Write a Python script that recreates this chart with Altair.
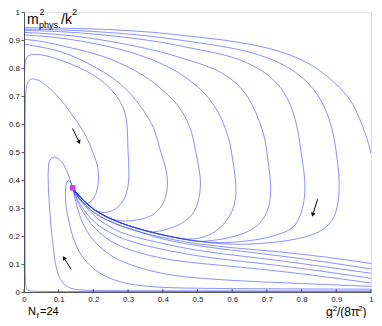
import math
import pandas as pd
import altair as alt

# ---- data (x = g^2/(8pi^2), y = m^2_phys./k^2) ----
BUNDLE_UP = [(0.5, 0.180), (0.43, 0.195), (0.36, 0.215), (0.30, 0.237), (0.26, 0.255),
             (0.22, 0.279), (0.19, 0.304), (0.165, 0.335), (0.15, 0.355), (0.1405, 0.372)]
BUNDLE_LO = [(0.6, 0.163), (0.5, 0.172), (0.43, 0.186), (0.36, 0.205), (0.30, 0.227),
             (0.26, 0.245), (0.22, 0.268), (0.19, 0.293), (0.165, 0.327), (0.15, 0.35), (0.1405, 0.372)]

C1 = [(0.0, 0.944), (0.1, 0.943), (0.2, 0.94), (0.3, 0.934), (0.4, 0.925), (0.48, 0.913),
      (0.58, 0.9), (0.667, 0.882), (0.75, 0.857), (0.834, 0.812), (0.899, 0.745), (0.946, 0.683),
      (0.969, 0.613), (0.988, 0.554), (1.0, 0.495)]
C2 = [(0.0, 0.939), (0.1, 0.937), (0.2, 0.931), (0.3, 0.922), (0.4, 0.909), (0.48, 0.894),
      (0.567, 0.879), (0.667, 0.855), (0.778, 0.80), (0.853, 0.706), (0.89, 0.589), (0.902, 0.48),
      (0.911, 0.391), (0.904, 0.278), (0.867, 0.219), (0.80, 0.19), (0.70, 0.173), (0.6, 0.168)]
C3 = [(0.0, 0.934), (0.1, 0.931), (0.2, 0.922), (0.3, 0.909), (0.4, 0.892), (0.48, 0.871),
      (0.55, 0.855), (0.62, 0.834), (0.713, 0.777), (0.769, 0.683), (0.792, 0.566), (0.797, 0.507),
      (0.813, 0.391), (0.806, 0.30), (0.785, 0.24), (0.765, 0.219), (0.72, 0.2), (0.681, 0.188),
      (0.62, 0.179), (0.569, 0.175)]
C4 = [(0.0, 0.927), (0.1, 0.921), (0.2, 0.906), (0.3, 0.884), (0.4, 0.857), (0.48, 0.826),
      (0.573, 0.789), (0.639, 0.718), (0.676, 0.624), (0.696, 0.542), (0.699, 0.507), (0.712, 0.391),
      (0.711, 0.331), (0.699, 0.272), (0.662, 0.219), (0.587, 0.19), (0.52, 0.181)]
C5 = [(0.0, 0.918), (0.08, 0.912), (0.164, 0.897), (0.24, 0.878), (0.304, 0.859), (0.37, 0.83),
      (0.425, 0.80), (0.48, 0.756), (0.536, 0.695), (0.573, 0.613), (0.592, 0.542), (0.597, 0.507),
      (0.612, 0.391), (0.611, 0.331), (0.597, 0.272), (0.56, 0.219), (0.52, 0.195), (0.48, 0.186)]
C6 = [(0.0, 0.903), (0.06, 0.894), (0.117, 0.877), (0.19, 0.857), (0.257, 0.83), (0.32, 0.792),
      (0.369, 0.754), (0.41, 0.71), (0.443, 0.671), (0.47, 0.615), (0.485, 0.566), (0.494, 0.507),
      (0.508, 0.42), (0.51, 0.37), (0.499, 0.302), (0.48, 0.267), (0.45, 0.24), (0.41, 0.222),
      (0.37, 0.213)]
C7 = [(0.0, 0.885), (0.07, 0.871), (0.12, 0.853), (0.164, 0.83), (0.21, 0.8), (0.257, 0.765),
      (0.3, 0.72), (0.332, 0.671), (0.36, 0.62), (0.378, 0.577), (0.392, 0.507), (0.41, 0.44),
      (0.415, 0.39), (0.41, 0.34), (0.395, 0.3), (0.37, 0.272), (0.335, 0.258), (0.295, 0.252),
      (0.26, 0.256)]
C8 = [(0.0015, 0.79), (0.003, 0.83), (0.01, 0.843), (0.024, 0.85), (0.05, 0.848), (0.089, 0.836),
      (0.135, 0.815), (0.182, 0.789), (0.225, 0.755), (0.257, 0.718), (0.28, 0.675), (0.294, 0.636),
      (0.299, 0.57), (0.299, 0.507), (0.304, 0.42), (0.299, 0.36), (0.285, 0.32), (0.262, 0.293),
      (0.238, 0.282), (0.215, 0.285), (0.195, 0.3)]
C9 = [(1.0, 0.0015), (0.5, 0.0015), (0.1, 0.0018), (0.02, 0.002), (0.005, 0.006), (0.003, 0.05),
      (0.003, 0.4), (0.003, 0.68), (0.006, 0.735), (0.012, 0.755), (0.024, 0.763), (0.04, 0.758),
      (0.061, 0.742), (0.09, 0.71), (0.117, 0.671), (0.14, 0.63), (0.164, 0.589), (0.182, 0.55),
      (0.196, 0.507), (0.208, 0.47), (0.215, 0.437), (0.215, 0.39), (0.21, 0.355), (0.196, 0.322),
      (0.178, 0.313), (0.163, 0.325), (0.155, 0.343), (0.146, 0.36), (0.1405, 0.372)]

R1 = [(1.0, 0.102), (0.867, 0.126), (0.727, 0.145), (0.587, 0.159), (0.52, 0.169)]
R2 = [(1.0, 0.082), (0.867, 0.108), (0.727, 0.131), (0.587, 0.151), (0.5, 0.165), (0.43, 0.18),
      (0.37, 0.199)]
R3 = [(1.0, 0.067), (0.867, 0.09), (0.727, 0.114), (0.587, 0.134), (0.5, 0.148), (0.43, 0.165),
      (0.36, 0.184), (0.3, 0.203), (0.266, 0.219), (0.23, 0.245), (0.201, 0.272), (0.175, 0.308),
      (0.155, 0.337), (0.1405, 0.372)]
R4 = [(1.0, 0.049), (0.867, 0.073), (0.727, 0.096), (0.587, 0.115), (0.508, 0.127), (0.45, 0.14),
      (0.387, 0.155), (0.33, 0.172), (0.285, 0.19), (0.245, 0.213), (0.21, 0.24), (0.185, 0.272),
      (0.164, 0.307), (0.15, 0.34), (0.1405, 0.372)]
R5 = [(1.0, 0.032), (0.867, 0.055), (0.727, 0.076), (0.587, 0.093), (0.508, 0.102), (0.45, 0.11),
      (0.406, 0.118), (0.35, 0.134), (0.313, 0.147), (0.27, 0.167), (0.238, 0.19), (0.205, 0.225),
      (0.182, 0.261), (0.163, 0.3), (0.15, 0.331), (0.1405, 0.372)]
R6 = [(1.0, 0.020), (0.867, 0.027), (0.727, 0.034), (0.6, 0.041), (0.508, 0.049), (0.45, 0.056),
      (0.406, 0.064), (0.35, 0.08), (0.313, 0.094), (0.27, 0.115), (0.238, 0.14), (0.205, 0.175),
      (0.182, 0.214), (0.165, 0.255), (0.155, 0.296), (0.147, 0.33), (0.1405, 0.372)]
R7 = [(1.0, 0.010), (0.8, 0.011), (0.6, 0.012), (0.45, 0.014), (0.387, 0.017), (0.32, 0.024),
      (0.276, 0.036), (0.24, 0.052), (0.21, 0.073), (0.185, 0.1), (0.164, 0.131), (0.148, 0.17),
      (0.136, 0.214), (0.128, 0.26), (0.122, 0.296), (0.119, 0.335), (0.119, 0.366), (0.122, 0.39),
      (0.1265, 0.399), (0.132, 0.396), (0.1365, 0.387), (0.1405, 0.372)]
L1 = [(1.0, 0.004), (0.6, 0.004), (0.3, 0.0045), (0.22, 0.005), (0.18, 0.006), (0.145, 0.009),
      (0.128, 0.016), (0.117, 0.026), (0.107, 0.04), (0.0986, 0.061), (0.09, 0.1), (0.0846, 0.155),
      (0.079, 0.22), (0.0754, 0.272), (0.071, 0.35), (0.069, 0.413), (0.0707, 0.46), (0.075, 0.472),
      (0.080, 0.479), (0.087, 0.482), (0.0913, 0.482), (0.1, 0.476), (0.108, 0.466), (0.117, 0.45),
      (0.124, 0.431), (0.13, 0.41), (0.136, 0.39), (0.1405, 0.372)]

FIXED_POINT_X = [0.1405]
FIXED_POINT_Y = [0.372]
ARROW_TAIL_X = [0.140, 0.136, 0.846]
ARROW_TAIL_Y = [0.584, 0.081, 0.331]
ARROW_HEAD_X = [0.159, 0.115, 0.832]
ARROW_HEAD_Y = [0.535, 0.122, 0.276]
TICKS = [0, 0.1, 0.2, 0.3, 0.4, 0.5, 0.6, 0.7, 0.8, 0.9, 1]

# ---- layout / style ----
W, H = 347, 280
FONT = "Liberation Sans"
LINE_COLOR = "#2233ff"


def with_tail(points, tail):
    last_x = points[-1][0]
    return points + [p for p in tail if p[0] < last_x - 0.005]


curves = {
    "C1": C1,
    "C2": with_tail(C2, BUNDLE_UP),
    "C3": with_tail(C3, BUNDLE_UP),
    "C4": with_tail(C4, BUNDLE_UP),
    "C5": with_tail(C5, BUNDLE_UP),
    "C6": with_tail(C6, BUNDLE_UP),
    "C7": with_tail(C7, BUNDLE_UP),
    "C8": with_tail(C8, BUNDLE_UP),
    "C9": C9,
    "R1": with_tail(R1, BUNDLE_LO),
    "R2": with_tail(R2, BUNDLE_LO),
    "R3": R3, "R4": R4, "R5": R5, "R6": R6, "R7": R7, "L1": L1,
}

rows = []
for name, pts in curves.items():
    for i, (x, y) in enumerate(pts):
        rows.append({"curve": name, "order": i, "x": x, "y": y})
df = pd.DataFrame(rows)

xs = alt.Scale(domain=[0, 1], nice=False, zero=False)
ys = alt.Scale(domain=[0, 1], nice=False, zero=False)
AX_X = alt.Axis(values=TICKS, format="~g", grid=False, ticks=True, tickSize=0, labelPadding=3,
                labelFont=FONT, labelFontSize=8, labelColor="#222", domainColor="#333",
                domainWidth=0.8, labelFlush=False, title=None)
AX_Y = alt.Axis(values=TICKS, format="~g", grid=False, tickSize=3, tickColor="#333", tickWidth=0.8,
                labelPadding=1.5, labelFont=FONT, labelFontSize=8, labelColor="#222",
                domainColor="#333", domainWidth=0.8, labelFlush=False, title=None)


def X(field):
    return alt.X(field, type="quantitative", scale=xs, axis=AX_X, title=None)


def Y(field):
    return alt.Y(field, type="quantitative", scale=ys, axis=AX_Y, title=None)


lines = alt.Chart(df).mark_line(
    interpolate="basis", color=LINE_COLOR, strokeWidth=0.9, opacity=0.6, clip=True
).encode(x=X("x"), y=Y("y"), detail="curve:N", order="order:Q")

xticks = alt.Chart(pd.DataFrame({"x": TICKS})).mark_rule(color="#333", strokeWidth=0.8).encode(
    x=X("x"), y=alt.value(H), y2=alt.value(H - 3)
)

arr = pd.DataFrame({"x": ARROW_TAIL_X, "y": ARROW_TAIL_Y, "xh": ARROW_HEAD_X, "yh": ARROW_HEAD_Y})
arr["ang"] = [
    (math.degrees(math.atan2((xh - xt) * W, (yh - yt) * H)) + 360) % 360
    for xt, yt, xh, yh in zip(arr.x, arr.y, arr.xh, arr.yh)
]
arrow_shaft = alt.Chart(arr).mark_rule(color="black", strokeWidth=1).encode(
    x=X("x"), y=Y("y"), x2="xh:Q", y2="yh:Q"
)
heads = arr[["xh", "yh", "ang"]].rename(columns={"xh": "x", "yh": "y"})
arrow_head = alt.Chart(heads).mark_point(
    shape="triangle-up", filled=True, color="black", size=22, opacity=1, strokeWidth=0
).encode(x=X("x"), y=Y("y"), angle=alt.Angle("ang:Q", scale=None))

fp = alt.Chart(pd.DataFrame({"x": FIXED_POINT_X, "y": FIXED_POINT_Y})).mark_square(
    color="#c83cf5", size=30, opacity=1
).encode(x=X("x"), y=Y("y"))


def label(text, px, py, size):
    return alt.Chart(alt.Data(values=[{}])).mark_text(
        text=text, font=FONT, fontSize=size, align="left", baseline="alphabetic", color="black"
    ).encode(x=alt.value(px), y=alt.value(py))


texts = [
    label("m", 3, 12, 14), label("2", 15.5, 3, 9), label("phys.", 15, 16, 9),
    label("/k", 37, 12, 14), label("2", 48, 3, 9),
    label("N", 4, 303, 11), label("f", 12.5, 305.5, 8), label("=24", 16, 303, 11),
    label("g", 302, 303.5, 12), label("2", 308.8, 299, 8), label("/(8π", 313, 303.5, 12),
    label("2", 334, 299, 8), label(")", 338.5, 303.5, 12),
]

chart = alt.layer(lines, xticks, arrow_shaft, arrow_head, fp, *texts).properties(
    width=W, height=H,
    padding={"left": 16, "top": 4, "right": 3, "bottom": 26},
    autosize=alt.AutoSizeParams(type="none"),
).configure_view(strokeWidth=0).configure(background="white")

chart.save("out.html", embed_options={"renderer": "svg", "actions": False})
